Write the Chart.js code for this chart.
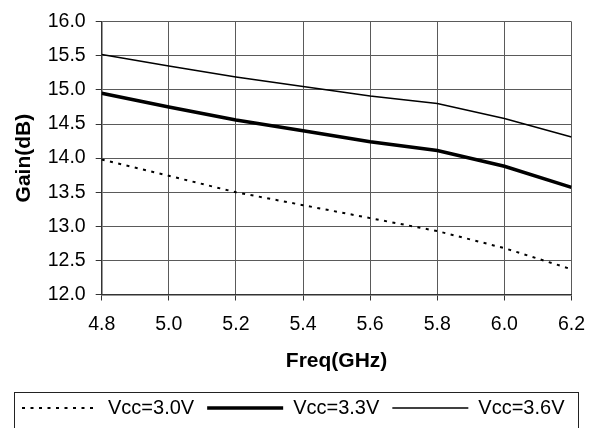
<!DOCTYPE html>
<html>
<head>
<meta charset="utf-8">
<script src="https://cdn.jsdelivr.net/npm/chart.js@4/dist/chart.umd.min.js"></script>
<style>
  body { margin: 0; background: #fff; }
  canvas { display: block; }
</style>
</head>
<body>
<canvas id="gainChart" width="597" height="428"></canvas>
<script>
// frequency points (GHz), also used as x tick labels
var freqs = [4.8, 5.0, 5.2, 5.4, 5.6, 5.8, 6.0, 6.2];
var gainTicks = [12.0, 12.5, 13.0, 13.5, 14.0, 14.5, 15.0, 15.5, 16.0];

// gain in dB
var vcc30 = [13.98, 13.74, 13.50, 13.31, 13.12, 12.93, 12.68, 12.37];
var vcc33 = [14.95, 14.75, 14.56, 14.40, 14.24, 14.11, 13.88, 13.57];
var vcc36 = [15.52, 15.35, 15.19, 15.05, 14.91, 14.80, 14.58, 14.31];

var seriesNames = ['Vcc=3.0V', 'Vcc=3.3V', 'Vcc=3.6V'];

function toPoints(vals) {
  return vals.map(function (v, i) { return { x: freqs[i], y: v }; });
}

var fontFamily = "'Liberation Sans', Arial, sans-serif";
var gridColor = '#5a5a5a';

// box round the legend, like the spreadsheet original
var legendFrame = {
  id: 'legendFrame',
  afterDraw: function (chart) {
    var lg = chart.legend;
    var ctx = chart.ctx;
    ctx.save();
    ctx.strokeStyle = '#222';
    ctx.lineWidth = 1;
    ctx.strokeRect(lg.left + 5.5, lg.top + 7.5, chart.width - lg.left - 24, 60);
    ctx.restore();
  }
};

new Chart(document.getElementById('gainChart'), {
  type: 'line',
  data: {
    datasets: [{
      label: seriesNames[0],
      data: toPoints(vcc30),
      borderColor: '#000',
      borderWidth: 2,
      borderDash: [3, 5.5],
      pointRadius: 0
    }, {
      label: seriesNames[1],
      data: toPoints(vcc33),
      borderColor: '#000',
      borderWidth: 3.5,
      pointRadius: 0
    }, {
      label: seriesNames[2],
      data: toPoints(vcc36),
      borderColor: '#000',
      borderWidth: 1.5,
      pointRadius: 0
    }]
  },
  options: {
    responsive: false,
    animation: false,
    layout: { padding: { left: 9, right: 0, top: 20, bottom: 0 } },
    plugins: {
      tooltip: { enabled: false },
      legend: {
        position: 'bottom',
        align: 'start',
        labels: {
          usePointStyle: true,
          pointStyle: 'line',
          pointStyleWidth: 76,
          padding: 13,
          color: '#000',
          font: { family: fontFamily, size: 20 },
          // take dash and width from the line itself, not the point
          generateLabels: function (chart) {
            var items = Chart.defaults.plugins.legend.labels.generateLabels(chart);
            items.forEach(function (it) {
              var ds = chart.data.datasets[it.datasetIndex];
              it.lineDash = ds.borderDash || [];
              it.lineWidth = ds.borderWidth;
              it.strokeStyle = ds.borderColor;
            });
            return items;
          }
        }
      }
    },
    scales: {
      x: {
        type: 'linear',
        min: 4.8,
        max: 6.2,
        afterBuildTicks: function (s) {
          s.ticks = freqs.map(function (v) { return { value: v }; });
        },
        afterFit: function (s) {
          s.height = 90.5;
          s.paddingRight = 25.5;
        },
        grid: { color: gridColor, tickColor: '#333', tickLength: 6 },
        border: { color: '#333', width: 1.5 },
        ticks: {
          padding: 12.8,
          color: '#000',
          maxRotation: 0,
          font: { family: fontFamily, size: 19.5 },
          callback: function (v) { return v.toFixed(1); }
        },
        title: {
          display: true,
          text: 'Freq(GHz)',
          color: '#000',
          padding: { top: 0, bottom: 11.4 },
          font: { family: fontFamily, size: 21, weight: 'bold' }
        }
      },
      y: {
        min: 12,
        max: 16,
        afterBuildTicks: function (s) {
          s.ticks = gainTicks.map(function (v) { return { value: v }; });
        },
        afterFit: function (s) {
          s.width = 92.7;
        },
        grid: { color: gridColor, tickColor: '#333', tickLength: 6 },
        border: { color: '#333', width: 1.5 },
        ticks: {
          padding: 10,
          color: '#000',
          font: { family: fontFamily, size: 19.5 },
          callback: function (v) { return v.toFixed(1); }
        },
        title: {
          display: true,
          text: 'Gain(dB)',
          color: '#000',
          padding: { top: 3, bottom: 0 },
          font: { family: fontFamily, size: 21, weight: 'bold' }
        }
      }
    }
  },
  plugins: [legendFrame]
});
</script>
</body>
</html>
